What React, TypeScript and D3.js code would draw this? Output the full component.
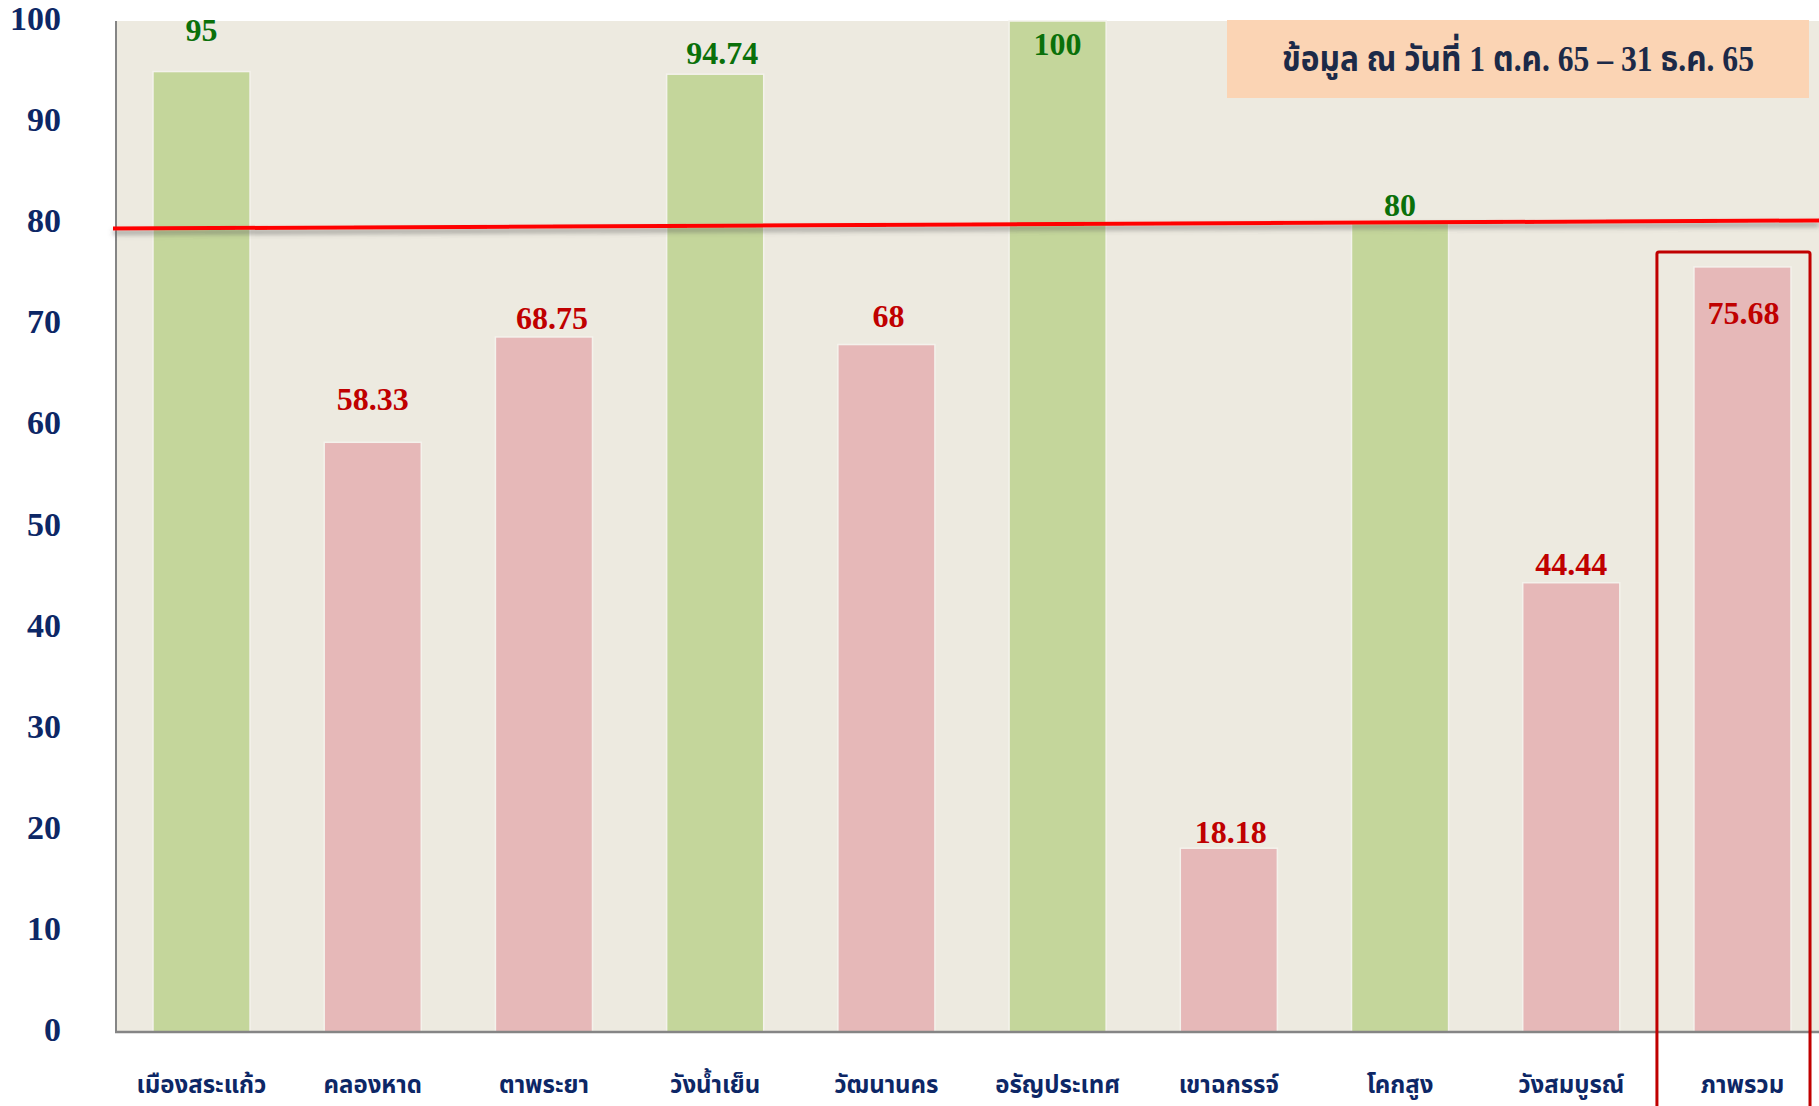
import React from "react";
import * as d3 from "d3";

const categories = [
  "เมืองสระแก้ว",
  "คลองหาด",
  "ตาพระยา",
  "วังน้ำเย็น",
  "วัฒนานคร",
  "อรัญประเทศ",
  "เขาฉกรรจ์",
  "โคกสูง",
  "วังสมบูรณ์",
  "ภาพรวม",
];
const values = [95, 58.33, 68.75, 94.74, 68, 100, 18.18, 80, 44.44, 75.68];
const valueLabels = ["95", "58.33", "68.75", "94.74", "68", "100", "18.18", "80", "44.44", "75.68"];
const yTicks = [0, 10, 20, 30, 40, 50, 60, 70, 80, 90, 100];
const target = 80;
const targetLineStart = 79.47;
const targetLineEnd = 80.27;
const titleText = "ข้อมูล ณ วันที่ 1 ต.ค. 65 – 31 ธ.ค. 65";
// per-label vertical offset of the label centre relative to bar top (px)
const labelOffsets = [-42, -43, -19, -21, -29, 23, -16, -18, -19, 46];
// small horizontal nudges of value labels (px)
const labelDx = [0, 0, 8, 7, 2, 0, 2, 0, 0, 1];

const W = 1819;
const H = 1106;
const L = 116;
const T = 21;
const B = 1032;
const R = 1828;

const GREEN = "#c4d69b";
const PINK = "#e6b8b8";
const BG = "#edeae0";
const NAVY = "#0d2766";

export default function App() {
  const x = d3
    .scaleBand<string>()
    .domain(categories)
    .range([L, R])
    .paddingInner(0.433)
    .paddingOuter(0.216);
  const y = d3.scaleLinear().domain([0, 100]).range([B, T]);
  const bw = x.bandwidth();
  const last = categories[categories.length - 1];
  const lastX = x(last) as number;

  return (
    <svg
      width={W}
      height={H}
      style={{ position: "absolute", left: 0, top: 0, background: "#ffffff" }}
    >
      <defs>
        <filter id="shadow" x="-5%" y="-200%" width="110%" height="500%">
          <feDropShadow dx="0" dy="4" stdDeviation="2.5" floodColor="#555" floodOpacity="0.55" />
        </filter>
      </defs>
      <rect x={L} y={T} width={R - L} height={B - T} fill={BG} />

      {categories.map((c, i) => {
        const v = values[i];
        const ok = v >= target;
        return (
          <rect
            key={c}
            x={x(c)}
            y={y(v)}
            width={bw}
            height={B - y(v)}
            fill={ok ? GREEN : PINK}
            stroke="#f4f2ec"
            strokeWidth={1.5}
          />
        );
      })}

      {/* axes */}
      <line x1={L} y1={T} x2={L} y2={B + 1} stroke="#858585" strokeWidth={2} />
      <line x1={L - 1} y1={B} x2={W} y2={B} stroke="#858585" strokeWidth={2.5} />

      {/* target line */}
      <line
        x1={L - 3}
        y1={y(targetLineStart)}
        x2={W}
        y2={y(targetLineEnd)}
        stroke="#ff0000"
        strokeWidth={4}
        filter="url(#shadow)"
      />

      {/* y tick labels */}
      {yTicks.map((t) => (
        <text
          key={t}
          x={61}
          y={y(t) - 2.5}
          textAnchor="end"
          dominantBaseline="central"
          fontFamily="'Liberation Serif', 'Times New Roman', serif"
          fontWeight="bold"
          fontSize={34}
          fill={NAVY}
        >
          {t}
        </text>
      ))}

      {/* value labels */}
      {categories.map((c, i) => {
        const v = values[i];
        const ok = v >= target;
        return (
          <text
            key={c}
            x={(x(c) as number) + bw / 2 + labelDx[i]}
            y={y(v) + labelOffsets[i]}
            textAnchor="middle"
            dominantBaseline="central"
            fontFamily="'Liberation Serif', 'Times New Roman', serif"
            fontWeight="bold"
            fontSize={32}
            fill={ok ? "#0a700a" : "#c00000"}
          >
            {valueLabels[i]}
          </text>
        );
      })}

      {/* x category labels */}
      {categories.map((c) => (
        <text
          key={c}
          x={(x(c) as number) + bw / 2}
          y={1086}
          textAnchor="middle"
          dominantBaseline="central"
          fontFamily="'Noto Sans Thai', 'Noto Sans', 'DejaVu Sans', sans-serif"
          fontWeight="bold"
          fontSize={24}
          fill={NAVY}
        >
          {c}
        </text>
      ))}

      {/* highlight box around overall */}
      <rect
        x={lastX - 37}
        y={252}
        width={bw + 56}
        height={H + 20 - 252}
        fill="none"
        stroke="#c00000"
        strokeWidth={3}
        rx={2}
      />

      {/* title box */}
      <rect x={1227} y={20} width={582} height={78} fill="#fbd4b4" />
      <text
        x={1227 + 291}
        y={59}
        textAnchor="middle"
        dominantBaseline="central"
        fontFamily="'Liberation Serif', 'Noto Sans Thai', serif"
        fontWeight="bold"
        fontSize={36}
        textLength={472}
        lengthAdjust="spacingAndGlyphs"
        fill="#1c2a48"
      >
        {titleText}
      </text>
    </svg>
  );
}
